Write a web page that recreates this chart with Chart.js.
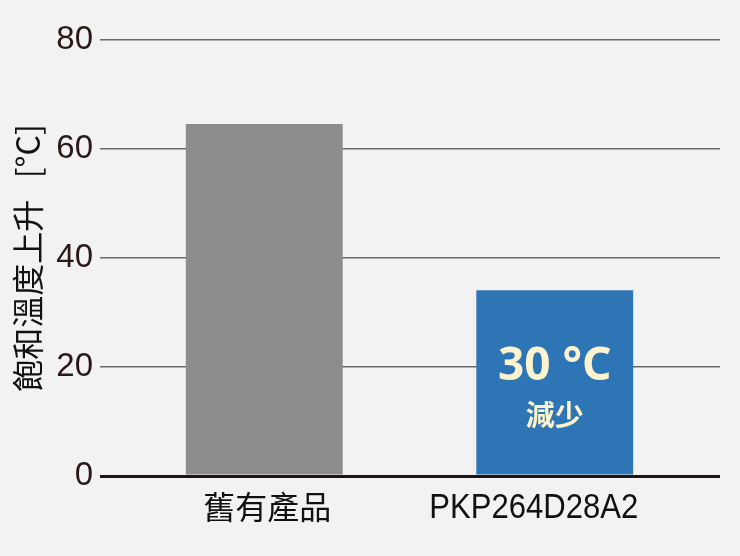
<!DOCTYPE html>
<html>
<head>
<meta charset="utf-8">
<script src="https://cdn.jsdelivr.net/npm/chart.js@4/dist/chart.umd.min.js"></script>
<style>
  html, body { margin: 0; padding: 0; background: #f2f2f2; }
  #wrap { width: 740px; height: 556px; }
</style>
</head>
<body>
<div id="wrap"><canvas id="myChart"></canvas></div>
<script>
// chart data
const categories = ['舊有產品', 'PKP264D28A2'];
const tempRise = [64.6, 34.1];
const barColors = ['#8c8c8c', '#2e75b6'];
const yTicks = [0, 20, 40, 60, 80];
const yTitle = '飽和溫度上升   [°C]';
const noteMain = '30 °C';
const noteSub = '減少';

const numFont = "'Liberation Sans', sans-serif";
const cjkFont = "'Noto Sans CJK TC', sans-serif";
// small horizontal nudge of each category label, as in the picture
const labelShift = [3, -21];

// writes the "30 °C 減少" note inside the second bar
const notePlugin = {
  id: 'note',
  afterDatasetsDraw(chart) {
    const bar = chart.getDatasetMeta(0).data[1];
    const mid = (bar.y + bar.base) / 2;
    const ctx = chart.ctx;
    ctx.save();
    ctx.fillStyle = '#fcf3cf';
    ctx.textAlign = 'center';
    ctx.textBaseline = 'middle';
    ctx.font = "bold 46px 'Noto Sans', 'Noto Sans CJK TC', sans-serif";
    ctx.fillText(noteMain, bar.x, mid - 15);
    ctx.font = "bold 29px " + cjkFont;
    ctx.fillText(noteSub, bar.x, mid + 33);
    ctx.restore();
  }
};

// category labels under the bars (the latin one is squeezed a bit)
const catLabels = {
  id: 'catLabels',
  afterDraw(chart) {
    const xs = chart.scales.x;
    const ctx = chart.ctx;
    ctx.save();
    ctx.fillStyle = '#111';
    ctx.textAlign = 'center';
    ctx.textBaseline = 'middle';
    categories.forEach((label, i) => {
      const x = xs.getPixelForValue(i) + labelShift[i];
      if (/[\u3000-\u9fff]/.test(label)) {
        ctx.font = '32px ' + cjkFont;
        ctx.fillText(label, x, xs.top + 31);
      } else {
        ctx.font = '35px ' + numFont;
        ctx.fillText(label, x, xs.top + 32, 209);
      }
    });
    ctx.restore();
  }
};

const ctx = document.getElementById('myChart');
new Chart(ctx, {
  type: 'bar',
  data: {
    labels: categories,
    datasets: [{
      data: tempRise,
      backgroundColor: barColors,
      borderWidth: 0,
      categoryPercentage: 1,
      barPercentage: 0.54
    }]
  },
  options: {
    responsive: true,
    maintainAspectRatio: false,
    animation: false,
    layout: { padding: { top: 40, right: 0, bottom: 0, left: 0 } },
    plugins: {
      legend: { display: false },
      tooltip: { enabled: false }
    },
    scales: {
      x: {
        grid: { display: false },
        border: { display: false },
        ticks: { display: false },
        afterFit(scale) { scale.height = 80; }
      },
      y: {
        min: 0,
        max: 80,
        afterBuildTicks(scale) { scale.ticks = yTicks.map(v => ({ value: v })); },
        border: { display: false },
        grid: {
          color: (c) => c.tick && c.tick.value === 0 ? '#1e1414' : '#6e6868',
          lineWidth: (c) => c.tick && c.tick.value === 0 ? 3 : 1.5,
          drawTicks: true,
          tickLength: 19
        },
        ticks: {
          color: '#2b1818',
          padding: 7,
          font: { family: numFont, size: 33 }
        },
        title: {
          display: true,
          text: yTitle,
          color: '#111',
          padding: { top: 9, bottom: 0 },
          font: { family: cjkFont, size: 32 }
        },
        afterFit(scale) { scale.width = 119; }
      },
      yRight: {
        position: 'right',
        min: 0,
        max: 80,
        afterBuildTicks(scale) { scale.ticks = yTicks.map(v => ({ value: v })); },
        border: { display: false },
        grid: {
          drawOnChartArea: false,
          drawTicks: true,
          tickLength: 20,
          color: (c) => c.tick && c.tick.value === 0 ? '#1e1414' : '#6e6868',
          lineWidth: (c) => c.tick && c.tick.value === 0 ? 3 : 1.5
        },
        ticks: { display: false },
        afterFit(scale) { scale.width = 40; }
      }
    }
  },
  plugins: [notePlugin, catLabels]
});
</script>
</body>
</html>
